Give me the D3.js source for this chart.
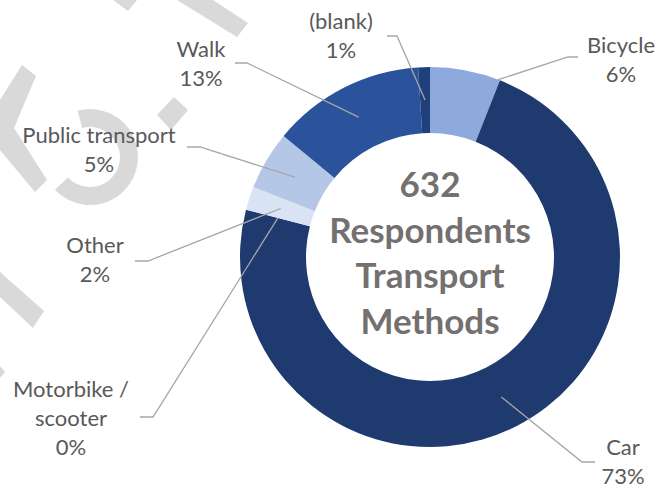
<!DOCTYPE html>
<html>
<head>
<meta charset="utf-8">
<script src="https://cdn.jsdelivr.net/npm/d3@7"></script>
<style>
  html, body { margin: 0; padding: 0; background: #ffffff; }
  svg { display: block; }
</style>
</head>
<body>
<svg id="chart" width="657" height="489"></svg>
<script>
// Survey results: how respondents travel
const categories = ["Bicycle", "Car", "Motorbike / scooter", "Other", "Public transport", "Walk", "(blank)"];
const shares = [6, 73, 0, 2, 5, 13, 1];
const respondentCount = 632;
const centreTitle = ["Respondents", "Transport", "Methods"];
const sliceColours = ["#8eaadc", "#1f3a6f", "#2a4f8f", "#dae3f3", "#b4c7e7", "#2b539c", "#20407c"];

// Label placement: first-line baseline, text centre, leader start and where the leader meets the ring
const labelLayout = {
  "Bicycle":             { x: 621, y: 53,  lines: ["Bicycle"],              lead: [578, 57],  elbow: -10, target: "edgeEnd" },
  "Car":                 { x: 623, y: 455, lines: ["Car"],                  lead: [595, 462], elbow: -13, target: "centroid" },
  "Motorbike / scooter": { x: 71,  y: 397, lines: ["Motorbike /", "scooter"], lead: [140, 417], elbow: 13, target: "centroid" },
  "Other":               { x: 95,  y: 253, lines: ["Other"],                lead: [135, 261], elbow: 13, target: "centroid" },
  "Public transport":    { x: 99,  y: 143, lines: ["Public transport"],     lead: [187, 147], elbow: 13, target: "centroid" },
  "Walk":                { x: 201, y: 57,  lines: ["Walk"],                 lead: [235, 63],  elbow: 12, target: "centroid" },
  "(blank)":             { x: 341, y: 29,  lines: ["(blank)"],              lead: [387, 36],  elbow: 10, target: "centroid" }
};

const svg = d3.select("#chart");
const cx = 430, cy = 257;
const outerR = 190, innerR = 124;
const lineH = 29;

// faint background watermark fragments
const mark = svg.append("g").attr("fill", "#d9d9d9");
const polys = [
  [[113, 0], [137, 0], [128, 11]],
  [[177, 0], [213, 0], [248, 23], [237, 37]],
  [[157, 115], [174, 97], [188, 110], [171, 130]],
  [[22, 65], [36, 76], [14, 128], [47, 180], [35, 192], [0, 150], [0, 100]],
  [[0, 272], [44, 311], [33, 328], [0, 297]],
  [[0, 366], [5, 372], [0, 378]]
];
polys.forEach(p => mark.append("path").attr("d", d3.line()(p) + "Z"));
mark.append("path")
  .attr("transform", "translate(90,157)")
  .attr("d", d3.arc()({ innerRadius: 30, outerRadius: 48, startAngle: -15 * Math.PI / 180, endAngle: 227 * Math.PI / 180 }));

const data = categories.map((c, i) => ({ category: c, share: shares[i], colour: sliceColours[i] }));

const pie = d3.pie().sort(null).value(d => d.share);
const arcs = pie(data);
const arc = d3.arc().innerRadius(innerR).outerRadius(outerR);
const midR = (innerR + outerR) / 2;

const g = svg.append("g").attr("transform", `translate(${cx},${cy})`);

g.selectAll("path.slice")
  .data(arcs)
  .join("path")
  .attr("class", "slice")
  .attr("d", arc)
  .attr("fill", d => d.data.colour);

// leader lines
function polar(angle, r) {
  return [cx + r * Math.sin(angle), cy - r * Math.cos(angle)];
}

const leaders = svg.append("g")
  .attr("fill", "none")
  .attr("stroke", "#a6a6a6")
  .attr("stroke-width", 1.3);

arcs.forEach(a => {
  const L = labelLayout[a.data.category];
  const end = L.target === "edgeEnd"
    ? polar(a.endAngle - 0.01, outerR)
    : polar((a.startAngle + a.endAngle) / 2, midR);
  const pts = [L.lead, [L.lead[0] + L.elbow, L.lead[1]], end];
  leaders.append("path").attr("d", d3.line()(pts));
});

// category labels
const labels = svg.append("g")
  .attr("font-family", "Lato, 'Noto Sans', sans-serif")
  .attr("font-size", 22)
  .attr("fill", "#595959")
  .attr("text-anchor", "middle");

arcs.forEach(a => {
  const L = labelLayout[a.data.category];
  const rows = L.lines.concat([`${a.data.share}%`]);
  rows.forEach((t, i) => {
    labels.append("text")
      .attr("x", L.x)
      .attr("y", L.y + i * lineH)
      .text(t);
  });
});

// centre title
const title = svg.append("g")
  .attr("font-family", "Lato, 'Noto Sans', sans-serif")
  .attr("font-weight", "bold")
  .attr("font-size", 35)
  .attr("fill", "#747070")
  .attr("text-anchor", "middle");

[String(respondentCount)].concat(centreTitle).forEach((t, i) => {
  title.append("text")
    .attr("x", cx)
    .attr("y", cy - 60 + i * 45.7)
    .text(t);
});
</script>
</body>
</html>
